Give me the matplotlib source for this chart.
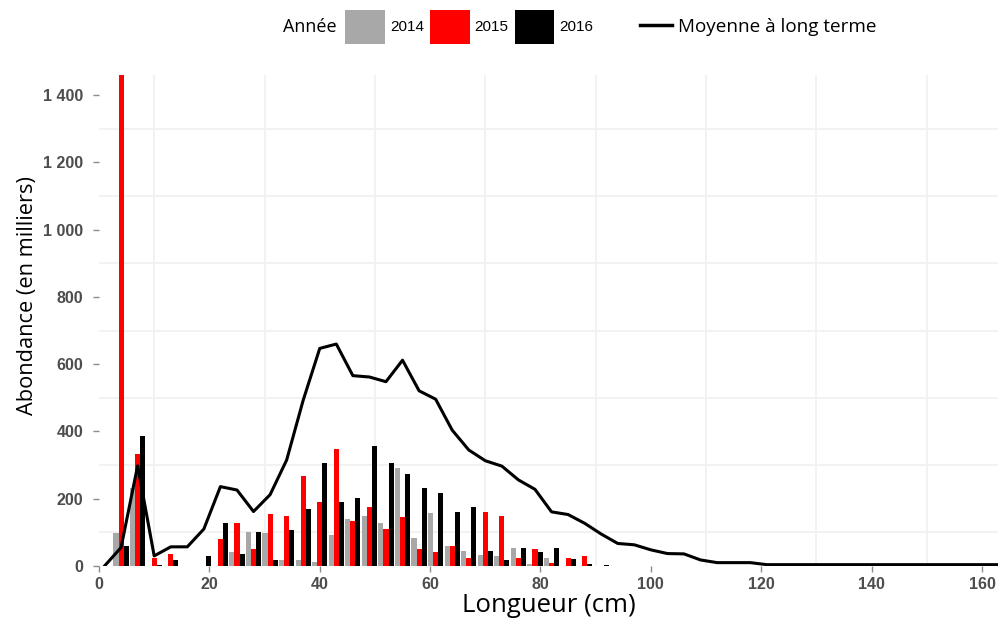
import numpy as np
from matplotlib import pyplot as plt
from matplotlib.patches import Patch
from matplotlib.lines import Line2D
from matplotlib.ticker import FuncFormatter, MultipleLocator

plt.rcParams['font.family'] = ['Open Sans', 'DejaVu Sans']

# length classes (centre of each 3 cm class)
classes = [1, 4, 7, 10, 13, 16, 19, 22, 25, 28, 31, 34, 37, 40, 43, 46, 49,
           52, 55, 58, 61, 64, 67, 70, 73, 76, 79, 82, 85, 88, 91]

abund_2014 = [0, 98, 232, 0, 0, 0, 0, 0, 41, 100, 98, 18, 18, 12, 92, 140, 148,
              128, 290, 82, 159, 60, 45, 33, 30, 55, 5, 24, 0, 0, 0]
abund_2015 = [0, 1500, 333, 24, 35, 0, 0, 80, 128, 50, 155, 148, 268, 190, 348, 134, 175,
              109, 146, 50, 41, 60, 24, 160, 148, 24, 50, 8, 24, 30, 0]
abund_2016 = [0, 60, 387, 3, 18, 0, 30, 127, 35, 100, 18, 108, 170, 306, 190, 202, 357,
              306, 274, 232, 217, 160, 175, 45, 18, 55, 41, 55, 20, 5, 3]

# long term mean
lt_length = [1, 4, 7, 10, 13, 16, 19, 22, 25, 28, 31, 34, 37, 40, 43, 46, 49, 52, 55,
             58, 61, 64, 67, 70, 73, 76, 79, 82, 85, 88, 91, 94, 97, 100, 103, 106,
             109, 112, 115, 118, 121, 124, 127, 130, 133, 136, 139, 142, 145, 148,
             151, 154, 157, 160, 163, 166]
lt_mean = [0, 55, 298, 30, 57, 57, 110, 236, 226, 162, 212, 315, 493, 647, 660, 566,
           562, 548, 612, 521, 496, 404, 345, 313, 297, 256, 228, 161, 153, 127, 95,
           67, 63, 48, 37, 36, 18, 10, 10, 10, 4, 4, 4, 4, 4, 4, 4, 4, 4, 4, 4, 4, 4,
           4, 4, 4]

years = ['2014', '2015', '2016']
colors = ['#a8a8a8', '#ff0000', '#000000']
tick_col = '#4d4d4d'

fig = plt.figure(figsize=(9.98, 6.22), dpi=100)
ax = fig.add_axes([99/998, 56/622, 899/998, 491/622])

x = np.array(classes)
w = 0.92
series = [abund_2014, abund_2015, abund_2016]
for i in range(3):
    ax.bar(x + (i - 1)*w, series[i], width=w, color=colors[i], linewidth=0, zorder=2)

ax.plot(lt_length, lt_mean, color='black', lw=2.2, zorder=3, solid_joinstyle='round')

ax.set_xlim(0, 162.9)
ax.set_ylim(0, 1460)

ax.xaxis.set_major_locator(MultipleLocator(20))
ax.xaxis.set_minor_locator(MultipleLocator(10))
ax.yaxis.set_major_locator(MultipleLocator(200))
ax.yaxis.set_minor_locator(MultipleLocator(100))
# space as thousands separator, like "1 400"
ax.yaxis.set_major_formatter(FuncFormatter(lambda v, p: '{:,}'.format(int(v)).replace(',', ' ')))

# only the minor grid is drawn in the original
ax.grid(which='minor', color='#f1f1f1', lw=1.3, zorder=0)
ax.tick_params(which='minor', length=0)
ax.tick_params(which='major', length=4, width=1, color='#8c8c8c',
               labelcolor=tick_col, labelsize=11.5)
ax.tick_params(axis='y', pad=7.5)
ax.tick_params(axis='x', pad=4)
for lab in ax.get_xticklabels() + ax.get_yticklabels():
    lab.set_fontfamily(['Liberation Sans', 'DejaVu Sans'])
    lab.set_fontweight('bold')
for s in ax.spines.values():
    s.set_visible(False)

ax.set_xlabel('Longueur (cm)', fontsize=18.5, labelpad=1)
ax.set_ylabel('Abondance (en milliers)', fontsize=15.7)
ax.yaxis.set_label_coords(-0.068, 0.55)

# legend on top
fig.text(337/998, 1 - 27/622, 'Année', ha='right', va='center', fontsize=13)
handles = [Patch(facecolor=c, edgecolor='none') for c in colors]
leg1 = fig.legend(handles, years, loc='center left', bbox_to_anchor=(345/998, 1 - 27/622),
                  ncol=3, frameon=False, fontsize=11, handlelength=2.6, handleheight=3.1,
                  handletextpad=0.33, columnspacing=0.4, borderpad=0, borderaxespad=0)
for t in leg1.get_texts():
    t.set_fontfamily(['Liberation Sans', 'DejaVu Sans'])
leg2 = fig.legend([Line2D([0], [0], color='black', lw=2.5)], ['Moyenne à long terme'],
                  loc='center left', bbox_to_anchor=(640/998, 1 - 27/622), frameon=False,
                  fontsize=13.6, handlelength=1.7, handletextpad=0.33, borderpad=0,
                  borderaxespad=0)

fig.savefig('out.png', dpi=100)
